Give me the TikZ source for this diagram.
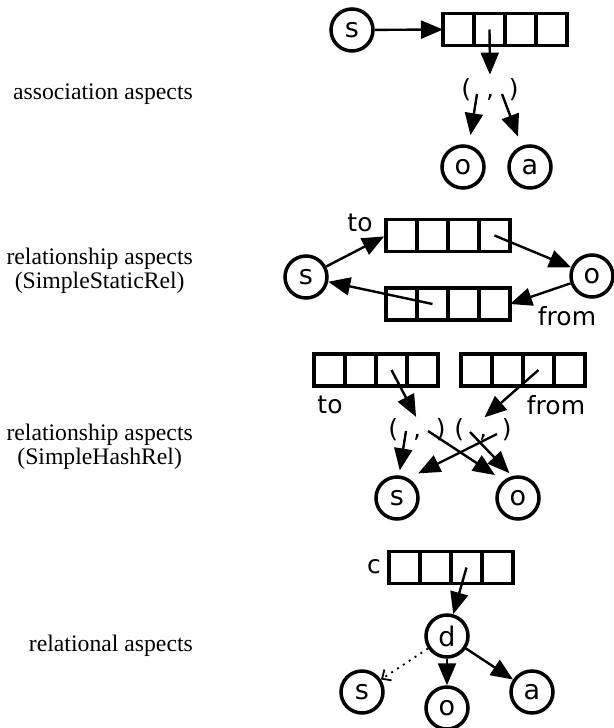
\documentclass[tikz,border=0pt]{standalone}
\usepackage{fontspec}
\setmainfont{Liberation Serif}
\newfontfamily\labelfont{DejaVu Sans}
\usetikzlibrary{arrows.meta,positioning}

\begin{document}
\begin{tikzpicture}[x=1pt, y=-1pt, >={Triangle[length=22pt,width=18pt]}]
	\tikzstyle{caption} = [anchor=east, align=center, inner sep=0pt, font=\fontsize{23.7}{23.5}\selectfont]
	\tikzstyle{item} = [circle, draw=black, line width=3.5pt, minimum size=42pt, inner sep=0pt, font=\labelfont\fontsize{27}{30}\selectfont]
	\tikzstyle{slot} = [rectangle, draw=black, line width=3.5pt, minimum width=31pt, minimum height=32pt, inner sep=0pt, outer sep=0pt]
	\tikzstyle{tag} = [inner sep=0pt, font=\labelfont\fontsize{25}{28}\selectfont]
	\tikzstyle{link} = [->, line width=2.4pt]
	\tikzstyle{hint} = [-{Straight Barb[length=7pt,width=13pt]}, line width=1.8pt, dash pattern=on 2pt off 5pt]
	\useasboundingbox (0, 0) rectangle (613, 728);

	% association aspects
	\node (assoc)[caption] at (193, 94) {association aspects};
	\node (s1)[item] at (352, 30) {s};
	\foreach \i in {1,...,4}
		\node (arr1-\i)[slot] at ({427.5+31*\i}, 29.5) {};
	\node (pair1)[tag] at (490, 90) {(\hspace{15pt},\hspace{15pt})};
	\coordinate (pair1-a) at (477, 94);
	\coordinate (pair1-b) at (502, 94);
	\node (o1)[item] at (463, 167) {o};
	\node (a1)[item] at (530, 167) {a};
	\draw [link] (s1) -- (arr1-1.west);
	\draw [link, shorten >=4pt] (arr1-2.center) -- (pair1.north);
	\draw [link, shorten >=10pt] (pair1-a) -- (o1.75);
	\draw [link, shorten >=10pt] (pair1-b) -- (a1.112);

	% relationship aspects, static
	\node (static)[caption] at (193, 271) {relationship aspects\\(SimpleStaticRel)};
	\node (s2)[item] at (306, 277) {s};
	\node (o2)[item] at (592, 276) {o};
	\foreach \i in {1,...,4} {
		\node (to2-\i)[slot] at ({370.5+31*\i}, 235.5) {};
		\node (from2-\i)[slot] at ({370.5+31*\i}, 304) {};
	}
	\node (to2)[tag] at (360, 223) {to};
	\node (from2)[tag] at (567, 316) {from};
	\draw [link, shorten >=2pt] (s2) -- (to2-1.west);
	\draw [link] (to2-4.center) -- (o2);
	\draw [link] (o2) -- (from2-4.east);
	\draw [link] (from2-2.center) -- (s2);

	% relationship aspects, hash
	\node (hash)[caption] at (193, 447) {relationship aspects\\(SimpleHashRel)};
	\foreach \i in {1,...,4} {
		\node (to3-\i)[slot] at ({298.5+31*\i}, 370) {};
		\node (from3-\i)[slot] at ({445.5+31*\i}, 370) {};
	}
	\node (to3)[tag] at (330, 405) {to};
	\node (from3)[tag] at (556, 405) {from};
	\node (pair3)[tag] at (417, 430) {(\hspace{15pt},\hspace{15pt})};
	\node (pair4)[tag] at (483, 430) {(\hspace{15pt},\hspace{15pt})};
	\coordinate (pair3-a) at (406, 431);
	\coordinate (pair3-b) at (428, 431);
	\coordinate (pair4-a) at (470, 432);
	\coordinate (pair4-b) at (497, 434);
	\node (s3)[item] at (397, 498) {s};
	\node (o3)[item] at (518, 498) {o};
	\draw [link, shorten >=2pt] (to3-3.center) -- (pair3.north);
	\draw [link, shorten >=2pt] (from3-3.center) -- (pair4.north);
	\draw [link, shorten >=5pt] (pair3-a) -- (s3.85);
	\draw [link, shorten >=10pt] (pair3-b) -- (o3.130);
	\draw [link, shorten >=4pt] (pair4-a) -- (o3.105);
	\draw [link, shorten >=11pt] (pair4-b) -- (s3.60);

	% relational aspects
	\node (rel)[caption] at (193, 646) {relational aspects};
	\node (c4)[tag] at (374, 567) {c};
	\foreach \i in {1,...,4}
		\node (arr4-\i)[slot] at ({373.5+31*\i}, 567.5) {};
	\node (d4)[item] at (447, 636) {d};
	\node (s4)[item] at (362, 692) {s};
	\node (o4)[item] at (447, 708) {o};
	\node (a4)[item] at (532, 692) {a};
	\draw [link] (arr4-3.center) -- (d4);
	\draw [hint] (d4) -- (s4);
	\draw [link] (d4) -- (o4);
	\draw [link] (d4) -- (a4);
\end{tikzpicture}
\end{document}
